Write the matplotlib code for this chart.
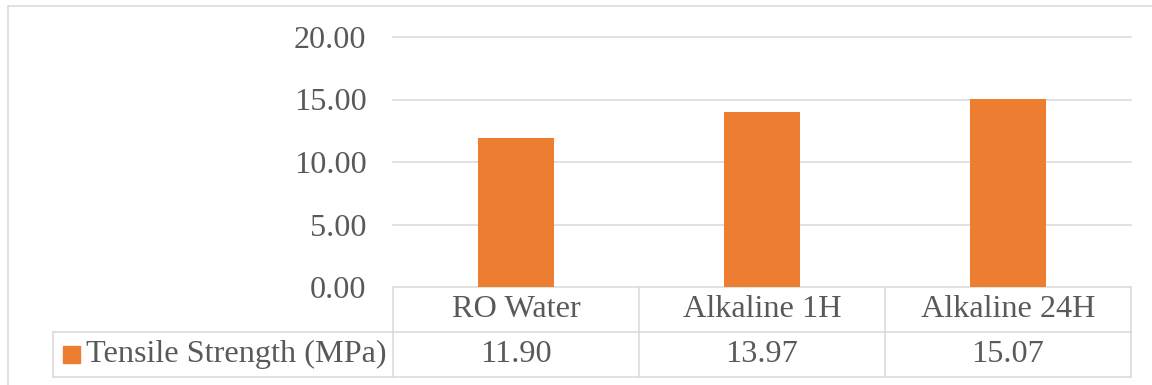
import matplotlib.pyplot as plt
import matplotlib.transforms as mtransforms
from matplotlib.lines import Line2D
from matplotlib.patches import Rectangle

# Data
categories = ["RO Water", "Alkaline 1H", "Alkaline 24H"]
tensile = [11.90, 13.97, 15.07]
series_name = "Tensile Strength (MPa)"
yticks = [0, 5, 10, 15, 20]

W, H = 1152, 385
BAR = "#ED7D31"
GRID = "#D9D9D9"
TEXT = "#595959"
FONT = "Liberation Serif"
FS = 23.2


def fx(px):
    return px / W


def fy(py):
    return 1 - py / H


fig = plt.figure(figsize=(W / 100, H / 100), dpi=100)
fig.patch.set_facecolor("white")

# plot area (pixel bounds from the reference)
left, right, top, bottom = 393, 1131, 37, 287
ax = fig.add_axes([fx(left), fy(bottom), fx(right - left), fy(top) - fy(bottom)])

x = list(range(len(categories)))
ax.bar([i + 0.5 for i in x], tensile, width=0.313, color=BAR, zorder=2)
ax.set_xlim(0, len(categories))
ax.set_ylim(0, 20)
ax.set_yticks(yticks)
ax.yaxis.set_major_formatter(plt.FormatStrFormatter("%.2f"))
ax.set_xticks([])
ax.grid(axis="y", color=GRID, linewidth=1.1)
for gl in ax.get_ygridlines():
    gl.set_clip_on(False)
ax.set_axisbelow(True)
for s in ax.spines.values():
    s.set_visible(False)
ax.tick_params(axis="y", length=0, pad=19, labelsize=FS, labelcolor=TEXT)
for lab in ax.get_yticklabels():
    lab.set_family(FONT)

# data table below the plot
tr = mtransforms.blended_transform_factory(ax.transData, fig.transFigure)
row1, row2, row3 = 287, 331.5, 376.5
n = len(categories)
for i in range(n + 1):
    fig.add_artist(Line2D([i, i], [fy(row1), fy(row3)], transform=tr,
                          color=GRID, lw=1.1))
for yy in (row2, row3):
    fig.add_artist(Line2D([fx(53), fx(right)], [fy(yy), fy(yy)],
                          transform=fig.transFigure, color=GRID, lw=1.1))
fig.add_artist(Line2D([fx(53), fx(53)], [fy(row2), fy(row3)],
                      transform=fig.transFigure, color=GRID, lw=1.1))

for i, (cat, val) in enumerate(zip(categories, tensile)):
    fig.text(i + 0.5, fy((row1 + row2) / 2), cat, transform=tr,
             ha="center", va="center", fontsize=FS, color=TEXT, family=FONT)
    fig.text(i + 0.5, fy((row2 + row3) / 2), f"{val:.2f}", transform=tr,
             ha="center", va="center", fontsize=FS, color=TEXT, family=FONT)

# legend key in the table
fig.add_artist(Rectangle((fx(63), fy(363)), fx(17), fy(346) - fy(363),
                         transform=fig.transFigure, color=BAR))
fig.text(fx(86), fy((row2 + row3) / 2), series_name, ha="left", va="center",
         fontsize=FS, color=TEXT, family=FONT)

# chart border (cropped at right and bottom in the reference)
fig.add_artist(Line2D([fx(7.5), fx(7.5)], [0, fy(6)],
                      transform=fig.transFigure, color=GRID, lw=1.1))
fig.add_artist(Line2D([fx(7.5), 1], [fy(6), fy(6)],
                      transform=fig.transFigure, color=GRID, lw=1.1))

fig.savefig("out.png", dpi=100)
